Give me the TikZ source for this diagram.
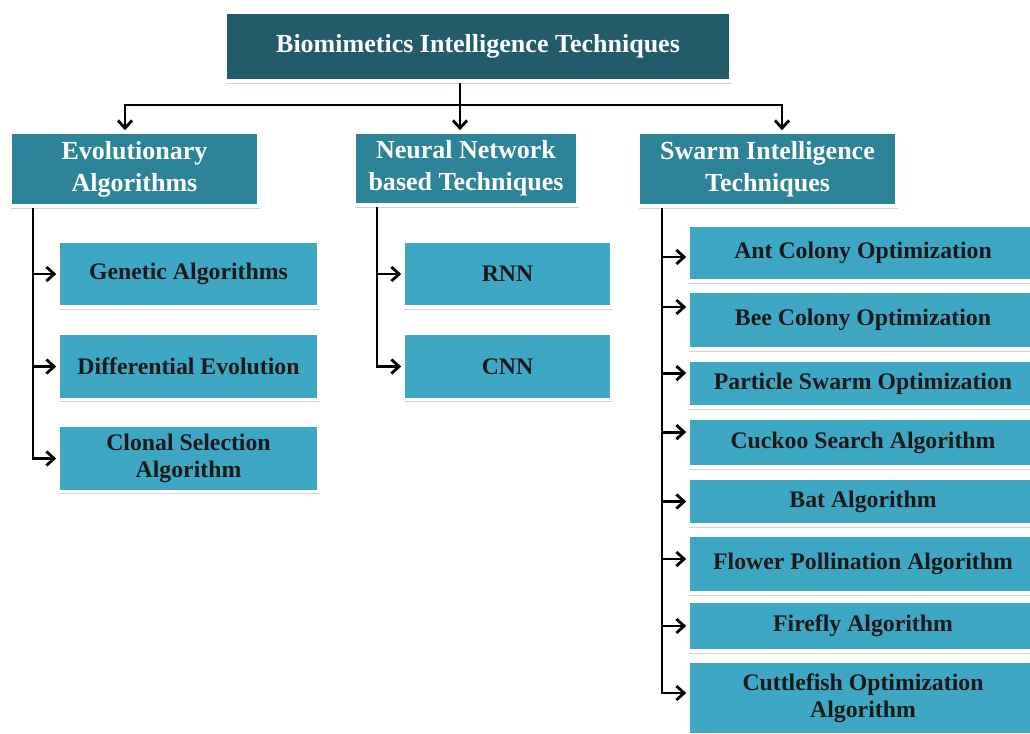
\documentclass[tikz,border=0pt]{standalone}
\usepackage{fontspec}
\setmainfont{Liberation Serif}
\usetikzlibrary{arrows.meta,shadows}
\definecolor{topc}{HTML}{225C6B}
\definecolor{midc}{HTML}{2D8398}
\definecolor{leafc}{HTML}{3EA8C4}
\begin{document}
\begin{tikzpicture}[x=0.025cm, y=-0.025cm, line width=2pt, >={Straight Barb[length=5.5pt,width=10pt]},
box/.style={rectangle,draw=white,line width=2.5pt,inner sep=0pt,align=center,
  drop shadow={shadow xshift=1pt,shadow yshift=-1.8pt,opacity=.35}},
top node/.style={box,fill=topc,text=white,font=\bfseries\fontsize{18.5}{22.8}\selectfont},
mid node/.style={box,fill=midc,text=white,font=\bfseries\fontsize{18.5}{22.8}\selectfont},
leaf node/.style={box,fill=leafc,text=black!90,font=\bfseries\fontsize{16.9}{19.2}\selectfont}]
\useasboundingbox (0,0) rectangle (1030,734);
\begin{scope}
\node[top node, minimum width=12.65cm, minimum height=1.725cm] (bio) at (478,46.5) {Biomimetics Intelligence Techniques};
\node[mid node, minimum width=6.225cm, minimum height=1.85cm] (evo) at (134.5,169) {Evolutionary\\Algorithms};
\node[mid node, minimum width=5.6cm, minimum height=1.825cm] (neu) at (466,168.5) {Neural Network\\based Techniques};
\node[mid node, minimum width=6.475cm, minimum height=1.85cm] (swa) at (767.5,169) {Swarm Intelligence\\Techniques};
%evolutionary
\node[leaf node, minimum width=6.525cm, minimum height=1.65cm] (e1) at (188.5,274) {Genetic Algorithms};
\node[leaf node, minimum width=6.525cm, minimum height=1.65cm] (e2) at (188.5,366.5) {Differential Evolution};
\node[leaf node, minimum width=6.525cm, minimum height=1.65cm] (e3) at (188.5,458.5) {Clonal Selection\\Algorithm};
%neural
\node[leaf node, minimum width=5.225cm, minimum height=1.65cm] (n1) at (507.5,274) {RNN};
\node[leaf node, minimum width=5.225cm, minimum height=1.65cm] (n2) at (507.5,366.5) {CNN};
%swarm
\node[leaf node, minimum width=8.75cm, minimum height=1.4cm] (s1) at (863,253) {Ant Colony Optimization};
\node[leaf node, minimum width=8.75cm, minimum height=1.45cm] (s2) at (863,320) {Bee Colony Optimization};
\node[leaf node, minimum width=8.75cm, minimum height=1.175cm] (s3) at (863,383.5) {Particle Swarm Optimization};
\node[leaf node, minimum width=8.75cm, minimum height=1.225cm] (s4) at (863,442.5) {Cuckoo Search Algorithm};
\node[leaf node, minimum width=8.75cm, minimum height=1.175cm] (s5) at (863,501.5) {Bat Algorithm};
\node[leaf node, minimum width=8.75cm, minimum height=1.45cm] (s6) at (863,564) {Flower Pollination Algorithm};
\node[leaf node, minimum width=8.75cm, minimum height=1.25cm] (s7) at (863,626) {Firefly Algorithm};
\node[leaf node, minimum width=8.75cm, minimum height=1.85cm] (s8) at (863,698) {Cuttlefish Optimization\\Algorithm};
\end{scope}
\begin{scope}
\coordinate (j) at (460,105);
\coordinate (a1) at (125,105);
\coordinate (a3) at (782,105);
\coordinate (t1) at (33,0);
\coordinate (t2) at (377,0);
\coordinate (t3) at (662,0);
\draw (bio.south -| j) -- (j);
\draw[<->] (evo.north -| a1) -- (a1) -- (a3) -- (swa.north -| a3);
\draw[->] (j) -- (neu.north -| j);
%\draw (evo.south -| t1) |- (e3.west);
\draw[->] (evo.south -| t1) |- (e3.west);
\draw[->] (e1.west -| t1) -- (e1.west);
\draw[->] (e2.west -| t1) -- (e2.west);
\draw[->] (neu.south -| t2) |- (n2.west);
\draw[->] (n1.west -| t2) -- (n1.west);
\draw[->] (swa.south -| t3) |- ([yshift=1.25mm]s8.west);
\draw[->] ([yshift=-1mm]s1.west -| t3) -- ([yshift=-1mm]s1.west);
\draw[->] ([yshift=3.25mm]s2.west -| t3) -- ([yshift=3.25mm]s2.west);
\draw[->] ([yshift=2.6mm]s3.west -| t3) -- ([yshift=2.6mm]s3.west);
\draw[->] ([yshift=2.6mm]s4.west -| t3) -- ([yshift=2.6mm]s4.west);
\draw[->] (s5.west -| t3) -- (s5.west);
\draw[->] ([yshift=1.25mm]s6.west -| t3) -- ([yshift=1.25mm]s6.west);
\draw[->] (s7.west -| t3) -- (s7.west);
\end{scope}
\end{tikzpicture}
\end{document}
